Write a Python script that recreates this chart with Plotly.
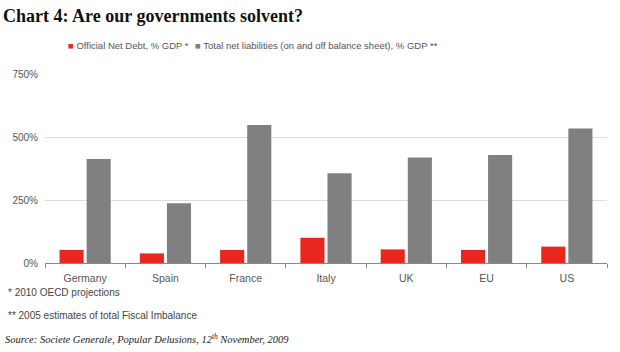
import plotly.graph_objects as go

categories = ["Germany", "Spain", "France", "Italy", "UK", "EU", "US"]
net_debt = [52, 38, 52, 100, 54, 52, 65]
total_liab = [413, 237, 548, 356, 419, 429, 534]
series_names = ["Official Net Debt, % GDP *",
                "Total net liabilities (on and off balance sheet), % GDP **"]
series_colors = ["#e8281e", "#808080"]
y_ticks = [0, 250, 500, 750]
y_tick_labels = ["0%", "250%", "500%", "750%"]

fig = go.Figure()
fig.add_trace(go.Bar(x=categories, y=net_debt, name=series_names[0],
                     marker=dict(color=series_colors[0], line=dict(width=0))))
fig.add_trace(go.Bar(x=categories, y=total_liab, name=series_names[1],
                     marker=dict(color=series_colors[1], line=dict(width=0))))

fig.update_layout(
    width=620, height=352,
    margin=dict(l=45, r=13, t=74, b=89),
    paper_bgcolor="white", plot_bgcolor="white",
    barmode="group", bargap=0.325, bargroupgap=0.11,
    font=dict(family="Liberation Sans, Arial, sans-serif", size=10, color="#555555"),
    title=dict(text="<b>Chart 4: Are our governments solvent?</b>",
               x=0.005, xanchor="left", xref="container",
               y=0.955, yanchor="middle", yref="container",
               font=dict(family="Liberation Serif, serif", size=18, color="#111111")),
    showlegend=False,
)
fig.update_xaxes(showgrid=False, showline=True, linecolor="#888888", linewidth=1,
                 ticks="outside", tickson="boundaries", ticklen=4, tickcolor="#888888",
                 tickfont=dict(size=10.5, color="#555555"), ticklabelstandoff=5,
                 fixedrange=True)
fig.update_yaxes(range=[0, 750], tickvals=y_ticks, ticktext=y_tick_labels,
                 showgrid=True, gridcolor="#dddddd", gridwidth=1, zeroline=False,
                 showline=False, ticks="", tickfont=dict(size=10, color="#555555"),
                 ticklabelstandoff=6, fixedrange=True)

# legend drawn as compact text (as in the reference)
legend_x = [0.038, 0.264]
for name, color, lx in zip(series_names, series_colors, legend_x):
    fig.add_annotation(text=f"<span style='color:{color}'>■</span> {name}",
                       xref="paper", yref="paper", x=lx, y=1.153,
                       xanchor="left", yanchor="middle", showarrow=False,
                       font=dict(size=9.5, color="#555555"))

fig.add_annotation(text="* 2010 OECD projections", xref="paper", yref="paper",
                   x=-0.07, y=-0.155, xanchor="left", yanchor="middle", showarrow=False,
                   font=dict(size=10, color="#444444"))
fig.add_annotation(text="** 2005 estimates of total Fiscal Imbalance", xref="paper", yref="paper",
                   x=-0.07, y=-0.28, xanchor="left", yanchor="middle", showarrow=False,
                   font=dict(size=10, color="#444444"))
fig.add_annotation(text="<i>Source: Societe Generale, Popular Delusions, 12<sup>th</sup> November, 2009</i>",
                   xref="paper", yref="paper", x=-0.075, y=-0.40, xanchor="left", yanchor="middle",
                   showarrow=False,
                   font=dict(family="Liberation Serif, serif", size=10.5, color="#222222"))

fig.write_html("out.html")
